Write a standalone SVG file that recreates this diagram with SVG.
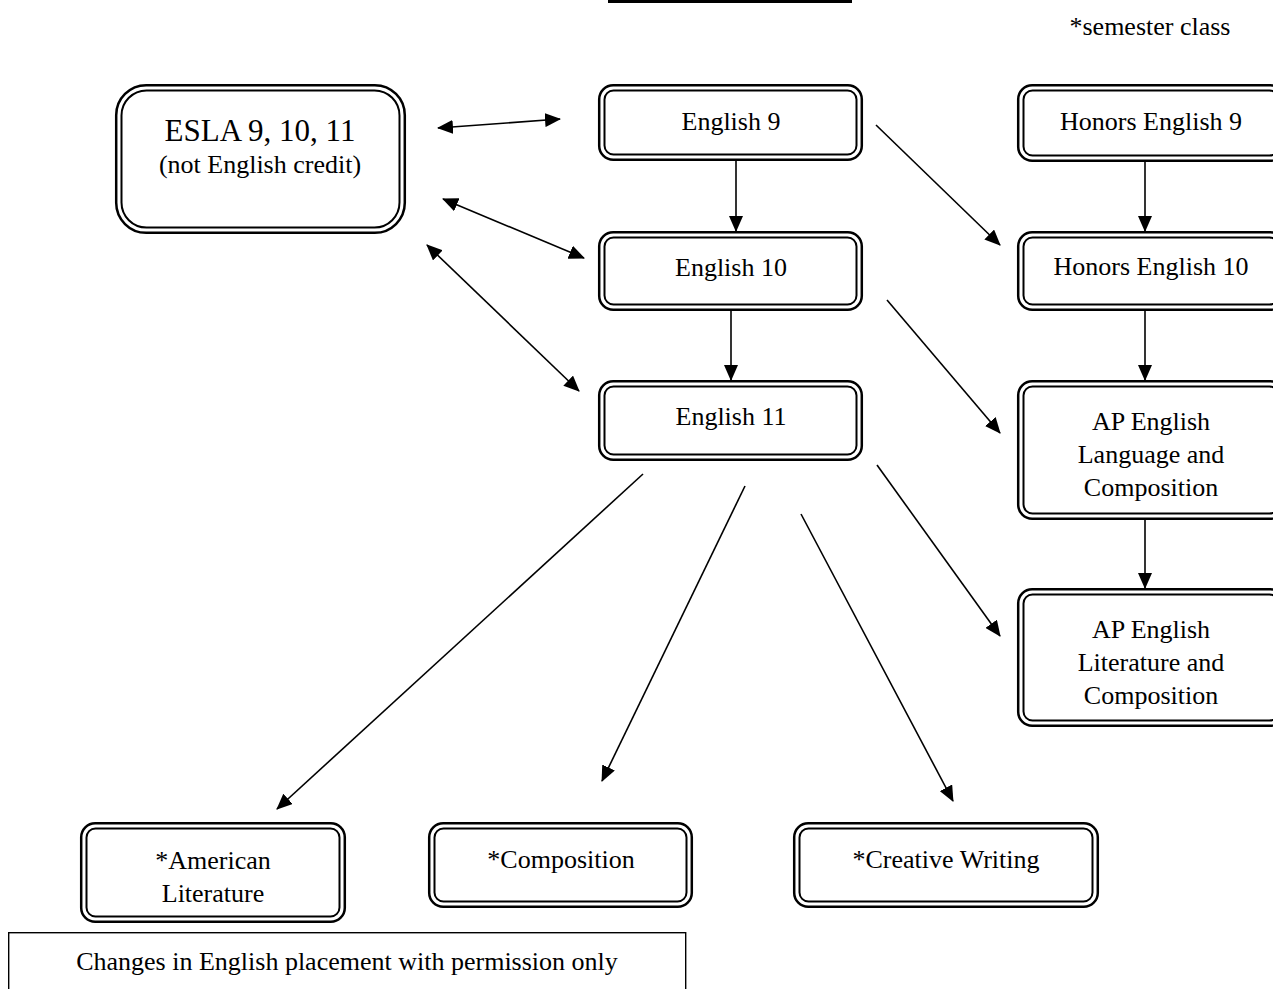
<svg xmlns="http://www.w3.org/2000/svg" width="1273" height="989" viewBox="0 0 1273 989">
<style>
.o{fill:#fff;stroke:#000;stroke-width:2.5}
.i{fill:none;stroke:#000;stroke-width:2}
.t{font-family:"Liberation Serif","Times New Roman",serif;font-size:26px;fill:#000;text-anchor:middle}
.c{stroke:#000;stroke-width:1.6;fill:none}
</style>
<defs>
<marker id="ah" markerUnits="userSpaceOnUse" markerWidth="16" markerHeight="14" refX="15" refY="7" orient="auto-start-reverse">
<path d="M0,0 L16,7 L0,14 z" fill="#000"/>
</marker>
</defs>
<rect x="0" y="0" width="1273" height="989" fill="#fff"/>
<rect id="topbar" x="608" y="0" width="244" height="3" fill="#000"/>
<text class="t" x="1150" y="35">*semester class</text>

<g id="connectors">
<line class="c" x1="438" y1="128" x2="560" y2="119" marker-start="url(#ah)" marker-end="url(#ah)"/>
<line class="c" x1="443" y1="199" x2="584" y2="258" marker-start="url(#ah)" marker-end="url(#ah)"/>
<line class="c" x1="427" y1="245" x2="579" y2="391" marker-start="url(#ah)" marker-end="url(#ah)"/>
<line class="c" x1="736" y1="161" x2="736" y2="231" marker-end="url(#ah)"/>
<line class="c" x1="731" y1="311" x2="731" y2="380" marker-end="url(#ah)"/>
<line class="c" x1="1145" y1="162" x2="1145" y2="231" marker-end="url(#ah)"/>
<line class="c" x1="1145" y1="311" x2="1145" y2="380" marker-end="url(#ah)"/>
<line class="c" x1="1145" y1="520" x2="1145" y2="588" marker-end="url(#ah)"/>
<line class="c" x1="876" y1="125" x2="1000" y2="245" marker-end="url(#ah)"/>
<line class="c" x1="887" y1="300" x2="1000" y2="433" marker-end="url(#ah)"/>
<line class="c" x1="877" y1="465" x2="1000" y2="636" marker-end="url(#ah)"/>
<line class="c" x1="643" y1="474" x2="277" y2="809" marker-end="url(#ah)"/>
<line class="c" x1="745" y1="486" x2="602" y2="781" marker-end="url(#ah)"/>
<line class="c" x1="801" y1="514" x2="953" y2="801" marker-end="url(#ah)"/>
</g>

<g id="esla">
<rect class="o" x="116.2" y="85.2" width="288.6" height="147.6" rx="30"/>
<rect class="i" x="121.5" y="90.5" width="278" height="137" rx="25"/>
<text class="t" x="260" y="141" style="font-size:31px">ESLA 9, 10, 11</text>
<text class="t" x="260" y="173">(not English credit)</text>
</g>
<g id="english9">
<rect class="o" x="599.2" y="85.2" width="262.6" height="74.6" rx="14"/>
<rect class="i" x="604.5" y="90.5" width="252" height="64" rx="9"/>
<text class="t" x="731" y="130">English 9</text>
</g>
<g id="english10">
<rect class="o" x="599.2" y="232.2" width="262.6" height="77.6" rx="14"/>
<rect class="i" x="604.5" y="237.5" width="252" height="67" rx="9"/>
<text class="t" x="731" y="276">English 10</text>
</g>
<g id="english11">
<rect class="o" x="599.2" y="381.2" width="262.6" height="78.6" rx="14"/>
<rect class="i" x="604.5" y="386.5" width="252" height="68" rx="9"/>
<text class="t" x="731" y="425">English 11</text>
</g>
<g id="honors9">
<rect class="o" x="1018.2" y="85.2" width="265.6" height="75.6" rx="14"/>
<rect class="i" x="1023.5" y="90.5" width="255" height="65" rx="9"/>
<text class="t" x="1151" y="130">Honors English 9</text>
</g>
<g id="honors10">
<rect class="o" x="1018.2" y="232.2" width="265.6" height="77.6" rx="14"/>
<rect class="i" x="1023.5" y="237.5" width="255" height="67" rx="9"/>
<text class="t" x="1151" y="275">Honors English 10</text>
</g>
<g id="aplang">
<rect class="o" x="1018.2" y="381.2" width="265.6" height="137.6" rx="14"/>
<rect class="i" x="1023.5" y="386.5" width="255" height="127" rx="9"/>
<text class="t" x="1151" y="430">AP English</text>
<text class="t" x="1151" y="463">Language and</text>
<text class="t" x="1151" y="496">Composition</text>
</g>
<g id="aplit">
<rect class="o" x="1018.2" y="589.2" width="265.6" height="136.6" rx="14"/>
<rect class="i" x="1023.5" y="594.5" width="255" height="126" rx="9"/>
<text class="t" x="1151" y="638">AP English</text>
<text class="t" x="1151" y="671">Literature and</text>
<text class="t" x="1151" y="704">Composition</text>
</g>
<g id="amlit">
<rect class="o" x="81.2" y="823.2" width="263.6" height="98.6" rx="14"/>
<rect class="i" x="86.5" y="828.5" width="253" height="88" rx="9"/>
<text class="t" x="213" y="869">*American</text>
<text class="t" x="213" y="902">Literature</text>
</g>
<g id="composition">
<rect class="o" x="429.2" y="823.2" width="262.6" height="83.6" rx="14"/>
<rect class="i" x="434.5" y="828.5" width="252" height="73" rx="9"/>
<text class="t" x="561" y="868">*Composition</text>
</g>
<g id="creative">
<rect class="o" x="794.2" y="823.2" width="303.6" height="83.6" rx="14"/>
<rect class="i" x="799.5" y="828.5" width="293" height="73" rx="9"/>
<text class="t" x="946" y="868">*Creative Writing</text>
</g>
<g id="note">
<rect x="8.7" y="932.7" width="677" height="70" fill="#fff" stroke="#000" stroke-width="1.4"/>
<text class="t" x="347" y="970">Changes in English placement with permission only</text>
</g>
</svg>
